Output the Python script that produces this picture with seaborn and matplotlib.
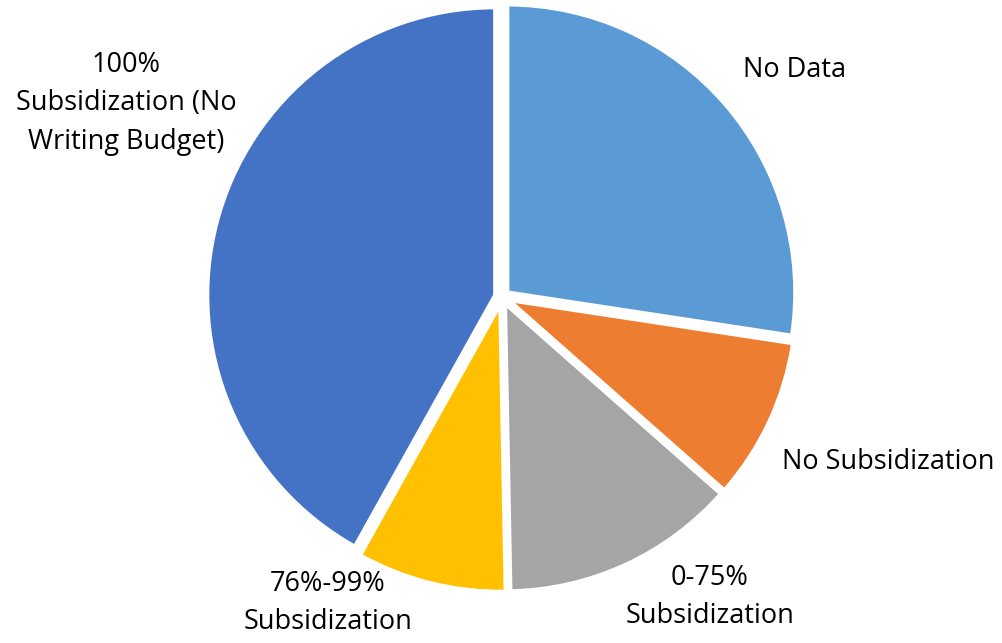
import matplotlib
matplotlib.use("Agg")
import matplotlib.pyplot as plt
import seaborn as sns

categories = ["No Data", "No Subsidization", "0-75%\nSubsidization",
              "76%-99%\nSubsidization", "100%\nSubsidization (No\nWriting Budget)"]
values = [27.4, 9.1, 13.2, 8.4, 41.9]
colors = ["#5B9BD5", "#ED7D31", "#A5A5A5", "#FFC000", "#4472C4"]

sns.set_theme(style="white")
plt.rcParams['font.family'] = ['Open Sans', 'DejaVu Sans']

fig = plt.figure(figsize=(10.02, 6.43), dpi=100)
ax = fig.add_axes([0, 0, 1, 1])

wedges, _ = ax.pie(values, colors=sns.color_palette(colors), startangle=90,
                   counterclock=False, radius=288, explode=[7] * len(values),
                   wedgeprops=dict(edgecolor='white', linewidth=3))
# pie centre at pixel (502, 297)
ax.set_xlim(-502, 500)
ax.set_ylim(-346, 297)
ax.set_aspect('equal')
ax.axis('off')

# label positions in pixel coordinates (x from left, y from top)
label_pos = [(795, 70), (888, 462), (710, 597), (328, 603), (126, 103)]
for lab, (px, py) in zip(categories, label_pos):
    ax.text(px - 502, 297 - py, lab, ha='center', va='center', fontsize=19.5,
            color='black', linespacing=1.5)

fig.savefig("out.png", dpi=100, facecolor='white')
